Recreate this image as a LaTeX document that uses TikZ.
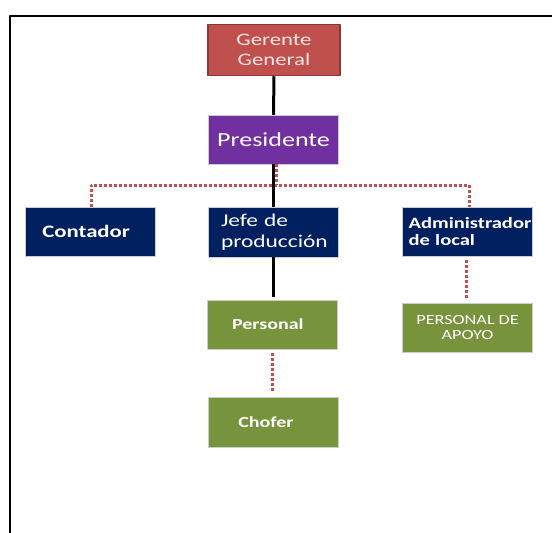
\documentclass[tikz,border=0pt]{standalone}
\usepackage{fontspec}
\setmainfont{Carlito}[FakeStretch=1.3]
\definecolor{gerred}{HTML}{C0504D}
\definecolor{gerdark}{HTML}{8C3836}
\definecolor{gertext}{HTML}{F7E6E5}
\definecolor{prespurple}{HTML}{7030A0}
\definecolor{jefenavy}{HTML}{002060}
\definecolor{persgreen}{HTML}{77933C}
\begin{document}
\begin{tikzpicture}[x=1pt,y=-1pt,line join=round,line cap=round,
		cargo/.style={minimum width=130pt,minimum height=49pt,inner sep=0pt,text=white,draw=white!80!black,line width=0.4pt},
		navybox/.style={cargo,fill=jefenavy},
		greenbox/.style={cargo,fill=persgreen},
		solidline/.style={line width=3pt,line cap=butt},
		dotline/.style={gerred,line width=3pt,line cap=butt,dash pattern=on 3pt off 2pt}]
	\useasboundingbox (0,0) rectangle (552,533);
	\draw[line width=1.5pt,line cap=butt] (10,533)--(10,16)--(552,16);
	\node[cargo,fill=gerred,draw=gerdark,line width=1.5pt,minimum width=132pt,minimum height=51pt,text=gertext,align=center,font=\fontsize{17.5}{20.5}\selectfont] (gerente) at (274,50) {Gerente\\General};
	\node[cargo,fill=prespurple,font=\fontsize{20}{23}\selectfont] (presidente) at (273.5,139.5) {Presidente};
	\node[navybox,text width=96pt,align=left,font=\bfseries\fontsize{17.5}{20}\selectfont] (contador) at (90.3,231.5) {Contador};
	\node[navybox,text width=105pt,align=left,minimum height=50pt,font=\fontsize{18}{20.5}\selectfont] (jefe) at (273.5,232) {Jefe de\\producción};
	\node[navybox,text width=118pt,align=left,font=\bfseries\fontsize{15.8}{16.5}\selectfont] (admin) at (467.6,231.5) {Administrador\\de local};
	\node[greenbox,font=\bfseries\fontsize{15.4}{18}\selectfont] (personal) at (272.3,324.5) {\hspace*{-9pt}Personal};
	\node[greenbox,align=center,font=\fontsize{14}{15.5}\selectfont] (apoyo) at (467.6,327.5) {PERSONAL DE\\APOYO};
	\node[greenbox,minimum height=50pt,font=\bfseries\fontsize{15.4}{18}\selectfont] (chofer) at (273.4,422) {\hspace*{-15pt}Chofer};
	\coordinate (busL) at (91,185);
	\coordinate (busR) at (469,185);
	\draw[dotline] (contador.north -| busL)--(busL)--(busR)--(admin.north -| busR);
	\draw[dotline] ([xshift=2.5pt]presidente.south)--([xshift=2.5pt]presidente.south |- busL);
	\draw[dotline,shorten <=4pt,shorten >=3pt] ([xshift=-1pt]admin.south)--([xshift=-1pt]apoyo.north);
	\draw[dotline,shorten <=4pt,shorten >=4pt] (personal.south)--(personal.south |- chofer.north);
	\draw[solidline] (gerente.south)--(presidente.north);
	\draw[solidline] (presidente.south)--(jefe.north);
	\draw[solidline,shorten >=3pt] (jefe.south)--(jefe.south |- personal.north);
\end{tikzpicture}
\end{document}
